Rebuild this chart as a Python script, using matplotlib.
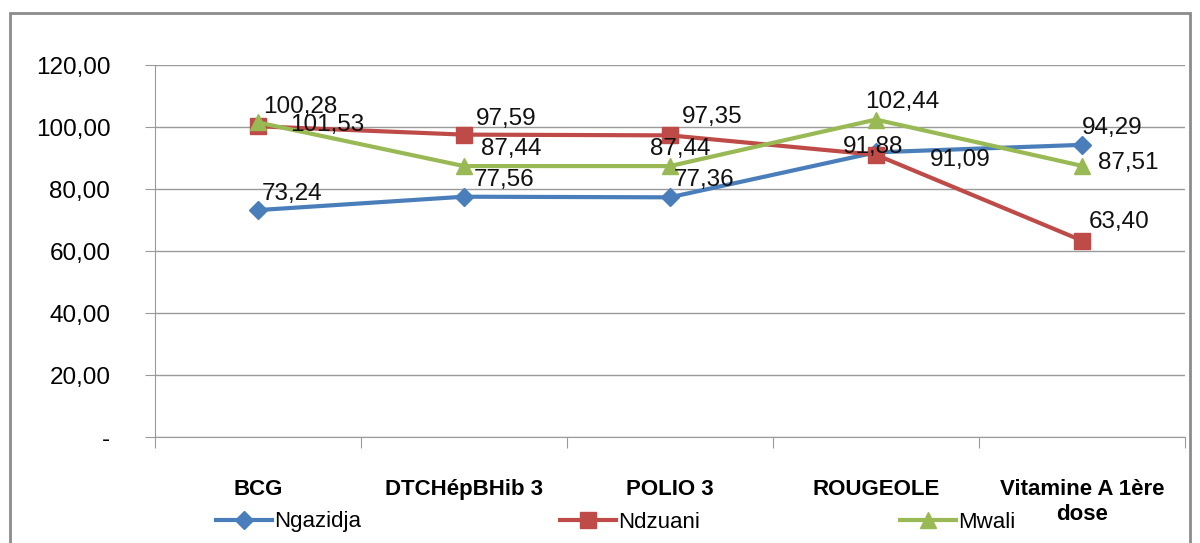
import matplotlib.pyplot as plt
import matplotlib.patches as patches
import numpy as np

# Données
categories = ["BCG", "DTCHépBHib 3", "POLIO 3", "ROUGEOLE", "Vitamine A 1ère\ndose"]
ngazidja = [73.24, 77.56, 77.36, 91.88, 94.29]
ndzuani = [100.28, 97.59, 97.35, 91.09, 63.40]
mwali = [101.53, 87.44, 87.44, 102.44, 87.51]
yticks = [0, 20, 40, 60, 80, 100, 120]

# décalages des étiquettes (pixels)
off_ngazidja = [(4, 16), (10, 17), (4, 17), (-33, 5), (0, 17)]
off_ndzuani = [(5, 19), (12, 16), (12, 18), (54, -5), (7, 19)]
off_mwali = [(32, -3), (17, 17), (-20, 17), (-11, 18), (16, 3)]

blue = "#4a7ebb"
red = "#be4b48"
green = "#98b954"
font = "Liberation Sans"

fig = plt.figure(figsize=(12, 5.43), dpi=100)
ax = fig.add_axes([0.129, 0.195, 0.8585, 0.685])

x = np.arange(len(categories))
l1, = ax.plot(x, ngazidja, color=blue, lw=3, marker="D", ms=9, label="Ngazidja")
l2, = ax.plot(x, ndzuani, color=red, lw=3, marker="s", ms=12, label="Ndzuani")
l3, = ax.plot(x, mwali, color=green, lw=3, marker="^", ms=12, label="Mwali")

def fmt(v):
    return f"{v:.2f}".replace(".", ",")

for serie, offs in [(ngazidja, off_ngazidja), (ndzuani, off_ndzuani), (mwali, off_mwali)]:
    for i, v in enumerate(serie):
        ax.annotate(fmt(v), (x[i], v), xytext=offs[i], textcoords="offset pixels",
                    ha="left", va="center", fontsize=17.5, family=font, color="#111111")

ax.set_xlim(-0.5, len(categories) - 0.5)
ax.set_ylim(0, 120)
ax.set_yticks(yticks)
ax.set_yticklabels(["-" if t == 0 else fmt(t) for t in yticks], fontsize=17.5, family=font)
ax.yaxis.grid(True, color="#9a9a9a", lw=1)
ax.set_axisbelow(True)

ax.set_xticks(np.arange(len(categories) + 1) - 0.5)
ax.set_xticklabels([])
ax.set_xticks(x, minor=True)
ax.set_xticklabels(categories, minor=True, fontsize=16, fontweight="bold", family=font,
                   linespacing=1.25)
ax.tick_params(axis="x", which="minor", length=0, pad=30)
ax.tick_params(axis="x", which="major", length=8, color="#9a9a9a", direction="out")
ax.tick_params(axis="y", length=7, color="#9a9a9a", pad=25)
for lab in ax.get_yticklabels():
    lab.set_horizontalalignment("right")

for s in ["top", "right"]:
    ax.spines[s].set_visible(False)
for s in ["left", "bottom"]:
    ax.spines[s].set_color("#9a9a9a")

# légende : une entrée par position
for h, xs in [(l1, 216), (l2, 560), (l3, 900)]:
    leg = fig.legend(handles=[h], loc="center left", bbox_to_anchor=(xs / 1200, 1 - 522 / 543),
                     frameon=False, prop={"family": font, "size": 16}, handlelength=2.5,
                     handletextpad=0.12, borderpad=0, borderaxespad=0)

fig.patches.append(patches.Rectangle((10 / 1200, -0.05), 1180 / 1200, 1 - 13 / 543 + 0.05,
                                     transform=fig.transFigure, fill=False,
                                     edgecolor="#8c8c8c", lw=2))

fig.savefig("out.png", dpi=100)
